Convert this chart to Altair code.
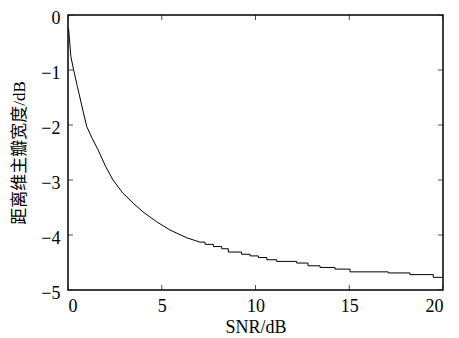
import altair as alt
import pandas as pd

# curve, steep part
snr_a = [0.03, 0.08, 0.15, 0.3, 0.5, 0.75, 1.0, 1.3, 1.6, 2.0, 2.4, 2.93, 3.47, 4.0, 4.73, 5.44, 6.33, 7.04]
db_a = [-0.24, -0.45, -0.75, -1.0, -1.3, -1.67, -2.03, -2.25, -2.45, -2.75, -3.0, -3.24, -3.42, -3.58, -3.76, -3.91, -4.05, -4.13]

# curve, flat staircase tail
snr_b = [7.04, 7.31, 7.75, 8.2, 8.55, 9.26, 9.71, 10.15, 10.6, 11.13, 12.2, 12.8, 13.44, 14.24, 15.04, 17.08, 18.24, 19.48, 20.0]
db_b = [-4.13, -4.17, -4.21, -4.25, -4.31, -4.35, -4.38, -4.41, -4.45, -4.48, -4.51, -4.56, -4.59, -4.62, -4.67, -4.69, -4.72, -4.77, -4.77]

x_ticks = [0, 5, 10, 15, 20]
y_ticks = [-5, -4, -3, -2, -1, 0]

FONT = "Liberation Serif, Times New Roman, Noto Sans CJK SC"

df_a = pd.DataFrame({"snr": snr_a, "db": db_a})
df_b = pd.DataFrame({"snr": snr_b, "db": db_b})
df_xt = pd.DataFrame({"t": x_ticks})
df_yt = pd.DataFrame({"t": y_ticks})

xscale = alt.Scale(domain=[0, 20], nice=False)
yscale = alt.Scale(domain=[-5, 0], nice=False)

xaxis = alt.Axis(values=x_ticks, title="SNR/dB", ticks=False, domain=False, grid=False,
                 labelPadding=7, titlePadding=3, format="d")
yaxis = alt.Axis(values=y_ticks, title="距离维主瓣宽度/dB", ticks=False, domain=False, grid=False,
                 labelPadding=8, titlePadding=12, labelOffset=3, format="d")

line_a = alt.Chart(df_a).mark_line(color="black", strokeWidth=1).encode(
    x=alt.X("snr:Q", scale=xscale, axis=xaxis),
    y=alt.Y("db:Q", scale=yscale, axis=yaxis),
)
line_b = alt.Chart(df_b).mark_line(color="black", strokeWidth=1, interpolate="step-after").encode(
    x=alt.X("snr:Q", scale=xscale),
    y=alt.Y("db:Q", scale=yscale),
)

tick_bottom = alt.Chart(df_xt).mark_tick(orient="vertical", size=10, thickness=1, color="black", clip=True).encode(
    x=alt.X("t:Q", scale=xscale), y=alt.datum(-5))
tick_top = alt.Chart(df_xt).mark_tick(orient="vertical", size=10, thickness=1, color="black", clip=True).encode(
    x=alt.X("t:Q", scale=xscale), y=alt.datum(0))
tick_left = alt.Chart(df_yt).mark_tick(orient="horizontal", size=10, thickness=1, color="black", clip=True).encode(
    y=alt.Y("t:Q", scale=yscale), x=alt.datum(0))
tick_right = alt.Chart(df_yt).mark_tick(orient="horizontal", size=10, thickness=1, color="black", clip=True).encode(
    y=alt.Y("t:Q", scale=yscale), x=alt.datum(20))

chart = alt.layer(line_a, line_b, tick_bottom, tick_top, tick_left, tick_right).properties(
    width=375, height=275,
    autosize=alt.AutoSizeParams(type="none"),
    padding={"left": 60, "top": 7, "right": 8, "bottom": 46},
    background="white",
).configure_view(
    stroke="black", strokeWidth=1.5
).configure_axis(
    labelFont=FONT, titleFont=FONT, labelFontSize=18, titleFontSize=18,
    labelColor="black", titleColor="black", titleFontWeight="normal",
).configure_axisY(
    titleFontSize=17,
)

chart.save("out.html", embed_options={"renderer": "svg", "actions": False})
